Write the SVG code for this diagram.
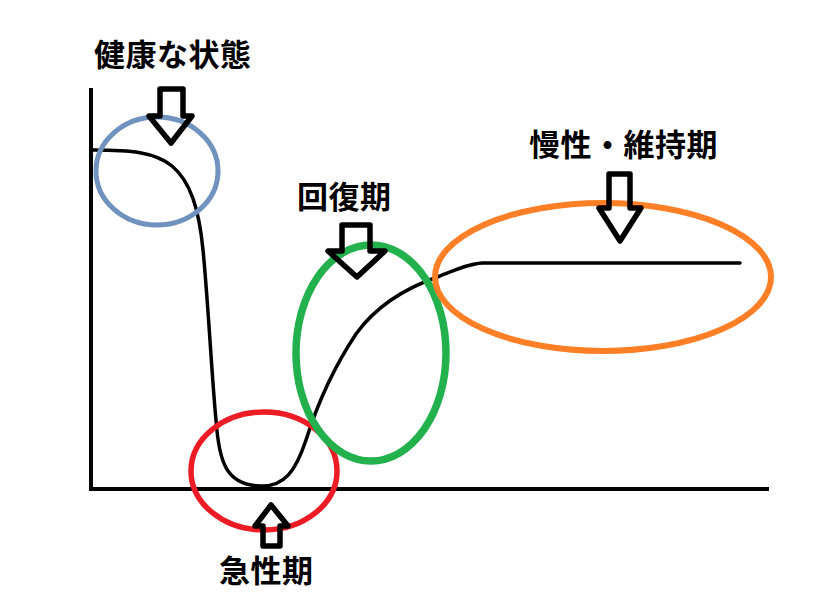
<svg xmlns="http://www.w3.org/2000/svg" width="816" height="612" viewBox="0 0 816 612">
<style>
.axis{stroke:#000;stroke-width:4;fill:none}
.curve{stroke:#000;stroke-width:3.5;fill:none;stroke-linecap:round;stroke-linejoin:round}
.ring{fill:none}
.arr{fill:none;stroke:#000;stroke-width:5.5;stroke-linejoin:round}
.lbl{font-family:"Noto Sans CJK JP","Noto Sans CJK SC",sans-serif;font-weight:bold;font-size:31px;letter-spacing:0.5px;fill:#000}
</style>
<rect width="816" height="612" fill="#fff"/>
<g id="axes">
<line class="axis" x1="91" y1="88" x2="91" y2="491"/>
<line class="axis" x1="89" y1="489" x2="769" y2="489"/>
</g>
<g id="curve">
<path class="curve" d="M93,150 C130,150 155,152 172,166 C190,181 199,208 203,250 C208,300 212,380 216,420 C219,462 226,485 260,486 C285,487 296,470 306,440 C318,402 336,364 356,334 C376,306 405,288 440,276 C455,270 468,264 482,263 L740,263"/>
</g>
<g id="healthy">
<ellipse class="ring" cx="157" cy="171" rx="61" ry="54" stroke="#7092be" stroke-width="5"/>
<polygon class="arr" points="160,89 183,89 183,116 192,116 171,143 149,116 160,116"/>
<text class="lbl" x="94" y="66">健康な状態</text>
</g>
<g id="acute">
<ellipse class="ring" cx="264" cy="471" rx="73" ry="59" stroke="#ed1c24" stroke-width="5.5"/>
<polygon class="arr" points="271,505 288,526 280,526 280,546 263,546 263,526 255,526"/>
<text class="lbl" x="219" y="582">急性期</text>
</g>
<g id="recovery">
<ellipse class="ring" cx="371" cy="353" rx="75" ry="108" stroke="#22b14c" stroke-width="7.5"/>
<polygon class="arr" points="342,225 370,225 370,251 385,251 357,277 328,251 342,251"/>
<text class="lbl" x="297" y="208">回復期</text>
</g>
<g id="chronic">
<ellipse class="ring" cx="603" cy="277" rx="168" ry="74" stroke="#ff7f27" stroke-width="6"/>
<polygon class="arr" points="609,174 630,174 630,208 641,208 620,241 599,208 609,208"/>
<text class="lbl" x="529" y="156">慢性・維持期</text>
</g>
</svg>
